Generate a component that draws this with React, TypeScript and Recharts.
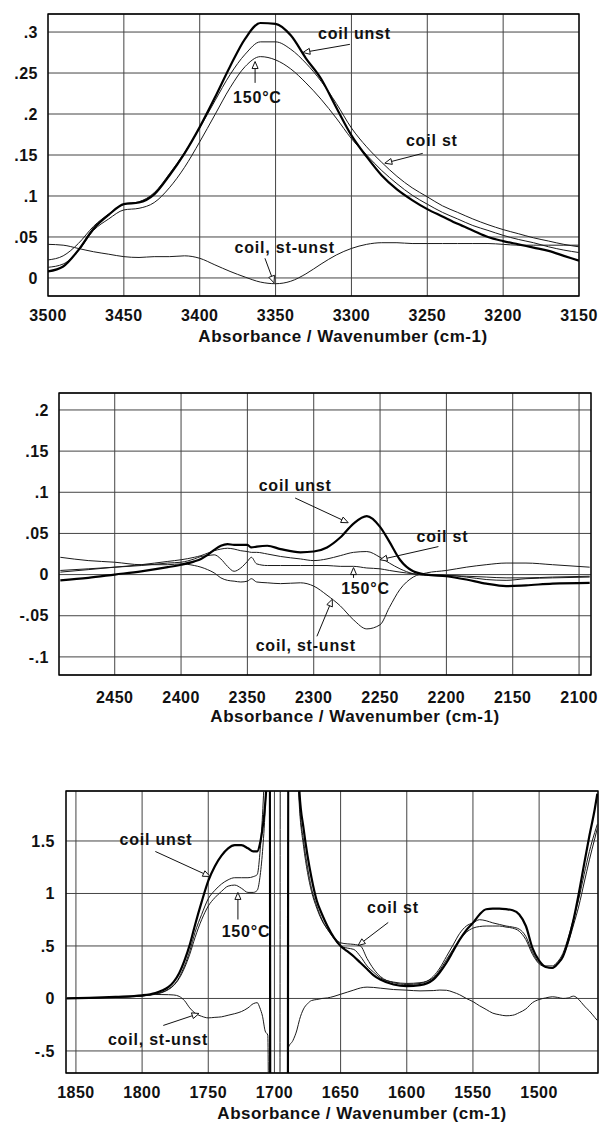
import { LineChart, Line, XAxis, YAxis, CartesianGrid, ReferenceLine, ReferenceDot, ReferenceArea } from "recharts";

const FONT = "'Liberation Sans', Arial, Helvetica, sans-serif";
const INK = "#111";

// ---- panel 1 : O-H region ----
const p1Wave = [3500, 3490, 3480, 3470, 3460, 3450, 3440, 3430, 3420, 3410, 3400, 3390, 3380, 3370, 3360, 3350, 3340, 3330, 3320, 3310, 3300, 3290, 3280, 3270, 3260, 3250, 3240, 3230, 3220, 3210, 3200, 3190, 3180, 3170, 3160, 3150];
const p1Unst = [0.008, 0.014, 0.034, 0.060, 0.077, 0.090, 0.092, 0.102, 0.125, 0.152, 0.184, 0.220, 0.258, 0.292, 0.311, 0.310, 0.296, 0.268, 0.243, 0.208, 0.174, 0.148, 0.125, 0.108, 0.095, 0.084, 0.075, 0.066, 0.058, 0.050, 0.045, 0.041, 0.037, 0.033, 0.027, 0.021];
const p1St = [0.022, 0.027, 0.042, 0.063, 0.078, 0.090, 0.093, 0.104, 0.127, 0.153, 0.183, 0.216, 0.248, 0.273, 0.288, 0.288, 0.279, 0.262, 0.240, 0.213, 0.183, 0.160, 0.141, 0.124, 0.110, 0.099, 0.088, 0.080, 0.072, 0.065, 0.059, 0.054, 0.049, 0.045, 0.041, 0.038];
const p1Hot = [0.013, 0.017, 0.033, 0.058, 0.072, 0.083, 0.085, 0.092, 0.110, 0.135, 0.166, 0.199, 0.232, 0.258, 0.270, 0.266, 0.255, 0.238, 0.218, 0.195, 0.170, 0.150, 0.131, 0.115, 0.101, 0.090, 0.080, 0.072, 0.064, 0.058, 0.052, 0.047, 0.043, 0.038, 0.034, 0.031];
const p1Diff = [0.041, 0.040, 0.036, 0.032, 0.029, 0.026, 0.025, 0.026, 0.026, 0.027, 0.024, 0.016, 0.008, 0.001, -0.005, -0.007, -0.004, 0.005, 0.017, 0.028, 0.036, 0.041, 0.043, 0.043, 0.042, 0.042, 0.042, 0.042, 0.042, 0.042, 0.041, 0.040, 0.040, 0.040, 0.040, 0.040];
const p1XTicks = [3500, 3450, 3400, 3350, 3300, 3250, 3200, 3150];
const p1YTicks = [0, 0.05, 0.1, 0.15, 0.2, 0.25, 0.3];

// ---- panel 2 : CO2 / NCO region ----
const p2Wave = [2491, 2470, 2450, 2430, 2410, 2400, 2390, 2385, 2380, 2375, 2370, 2365, 2360, 2355, 2350, 2347, 2343, 2335, 2325, 2310, 2300, 2290, 2280, 2270, 2260, 2250, 2243, 2235, 2225, 2215, 2200, 2185, 2170, 2155, 2140, 2120, 2092];
const p2Unst = [-0.007, -0.004, 0.0, 0.004, 0.009, 0.012, 0.016, 0.019, 0.024, 0.030, 0.035, 0.037, 0.036, 0.036, 0.036, 0.033, 0.034, 0.035, 0.031, 0.027, 0.028, 0.033, 0.045, 0.062, 0.071, 0.058, 0.040, 0.018, 0.004, 0.0, -0.002, -0.006, -0.011, -0.014, -0.013, -0.011, -0.010];
const p2St = [0.003, 0.006, 0.009, 0.012, 0.016, 0.018, 0.021, 0.023, 0.026, 0.029, 0.031, 0.032, 0.031, 0.029, 0.028, 0.027, 0.027, 0.025, 0.022, 0.019, 0.017, 0.019, 0.023, 0.027, 0.028, 0.021, 0.014, 0.007, 0.001, -0.001, -0.001, -0.003, -0.006, -0.007, -0.005, -0.004, -0.003];
const p2Hot = [0.005, 0.007, 0.009, 0.011, 0.014, 0.015, 0.019, 0.022, 0.023, 0.024, 0.019, 0.010, 0.004, 0.008, 0.016, 0.021, 0.013, 0.011, 0.011, 0.011, 0.011, 0.011, 0.010, 0.010, 0.008, 0.007, 0.005, 0.003, 0.001, 0.0, -0.001, -0.002, -0.003, -0.004, -0.004, -0.003, -0.002];
const p2Diff = [0.021, 0.017, 0.015, 0.012, 0.012, 0.013, 0.011, 0.009, 0.006, 0.002, -0.004, -0.007, -0.008, -0.009, -0.008, -0.005, -0.009, -0.010, -0.011, -0.010, -0.014, -0.025, -0.038, -0.055, -0.066, -0.061, -0.040, -0.018, -0.003, 0.002, 0.005, 0.009, 0.012, 0.014, 0.014, 0.012, 0.009];
const p2XTicks = [2450, 2400, 2350, 2300, 2250, 2200, 2150, 2100];
const p2YTicks = [-0.1, -0.05, 0, 0.05, 0.1, 0.15, 0.2];

// ---- panel 3 : carbonyl region (saturated band near 1700) ----
const p3Wave = [1857, 1840, 1820, 1800, 1790, 1785, 1780, 1776, 1772, 1768, 1764, 1760, 1755, 1750, 1745, 1740, 1735, 1730, 1725, 1720, 1716, 1713, 1711, 1709, 1707, 1705, 1703.5, 1703, 1696, 1695.5, 1690, 1689.5, 1686, 1683, 1681, 1678, 1675, 1672, 1668, 1664, 1660, 1655, 1650, 1645, 1640, 1635, 1630, 1625, 1620, 1610, 1600, 1590, 1580, 1575, 1570, 1565, 1560, 1555, 1550, 1545, 1540, 1535, 1530, 1525, 1520, 1515, 1510, 1505, 1500, 1495, 1490, 1486, 1482, 1478, 1474, 1470, 1466, 1462, 1458, 1456];
const p3Unst = [0.0, 0.005, 0.015, 0.030, 0.052, 0.075, 0.11, 0.16, 0.24, 0.36, 0.51, 0.70, 0.92, 1.12, 1.26, 1.36, 1.43, 1.46, 1.46, 1.43, 1.40, 1.40, 1.47, 1.62, 1.85, 2.3, 3.0, -3.0, -3.0, -3.0, -3.0, 3.0, 3.0, 2.5, 1.95, 1.62, 1.36, 1.15, 0.93, 0.80, 0.69, 0.58, 0.50, 0.45, 0.40, 0.34, 0.28, 0.22, 0.18, 0.133, 0.117, 0.127, 0.18, 0.25, 0.34, 0.45, 0.56, 0.65, 0.72, 0.80, 0.85, 0.855, 0.855, 0.85, 0.84, 0.80, 0.69, 0.48, 0.36, 0.30, 0.29, 0.33, 0.40, 0.55, 0.75, 1.0, 1.28, 1.55, 1.80, 1.95];
const p3St = [0.0, 0.004, 0.012, 0.025, 0.042, 0.06, 0.09, 0.13, 0.20, 0.31, 0.45, 0.63, 0.80, 0.95, 1.03, 1.09, 1.13, 1.15, 1.15, 1.15, 1.16, 1.18, 1.38, 1.75, 2.3, 3.0, 3.0, -3.0, -3.0, 3.0, 3.0, 3.0, 3.0, 2.3, 1.8, 1.45, 1.2, 1.02, 0.86, 0.74, 0.66, 0.58, 0.53, 0.52, 0.515, 0.50, 0.38, 0.28, 0.21, 0.15, 0.133, 0.143, 0.21, 0.29, 0.40, 0.51, 0.62, 0.69, 0.72, 0.75, 0.74, 0.72, 0.705, 0.69, 0.68, 0.66, 0.59, 0.44, 0.34, 0.31, 0.31, 0.35, 0.43, 0.58, 0.76, 0.95, 1.18, 1.40, 1.58, 1.66];
const p3Hot = [0.0, 0.004, 0.012, 0.025, 0.040, 0.056, 0.085, 0.125, 0.19, 0.29, 0.42, 0.58, 0.75, 0.88, 0.96, 1.02, 1.07, 1.08, 1.05, 1.01, 1.01, 1.03, 1.15, 1.40, 1.80, 2.5, 3.0, -3.0, -3.0, -3.0, -3.0, 3.0, 3.0, 2.4, 1.85, 1.5, 1.25, 1.05, 0.88, 0.75, 0.66, 0.57, 0.50, 0.48, 0.467, 0.40, 0.31, 0.25, 0.197, 0.156, 0.143, 0.15, 0.197, 0.27, 0.37, 0.47, 0.56, 0.63, 0.67, 0.685, 0.69, 0.69, 0.69, 0.68, 0.67, 0.64, 0.56, 0.42, 0.33, 0.30, 0.29, 0.33, 0.40, 0.53, 0.70, 0.88, 1.10, 1.32, 1.52, 1.62];
const p3Diff = [0.0, 0.005, 0.012, 0.022, 0.038, 0.037, 0.036, 0.033, 0.02, -0.02, -0.09, -0.14, -0.17, -0.185, -0.18, -0.175, -0.16, -0.145, -0.125, -0.09, -0.05, -0.04, -0.09, -0.17, -0.31, -0.35, -3.0, -3.0, -3.0, -3.0, -3.0, -0.47, -0.40, -0.30, -0.20, -0.10, -0.05, -0.02, -0.01, 0.0, 0.005, 0.02, 0.04, 0.06, 0.08, 0.10, 0.108, 0.105, 0.098, 0.085, 0.079, 0.072, 0.075, 0.08, 0.078, 0.06, 0.035, 0.0, -0.03, -0.07, -0.105, -0.14, -0.155, -0.165, -0.16, -0.135, -0.10, -0.04, -0.01, 0.005, 0.016, 0.01, 0.0, 0.005, 0.022, -0.01, -0.07, -0.12, -0.18, -0.21];
const p3XTicks = [1850, 1800, 1750, 1700, 1650, 1600, 1550, 1500];
const p3YTicks = [-0.5, 0, 0.5, 1, 1.5];

type Note = { text: string; tx: number; ty: number; x1: number; y1: number; x2: number; y2: number };

const p1Notes: Note[] = [
  { text: "coil unst", tx: 3298, ty: 0.292, x1: 3301, y1: 0.285, x2: 3332, y2: 0.275 },
  { text: "150°C", tx: 3362, ty: 0.214, x1: 3363.5, y1: 0.238, x2: 3363.5, y2: 0.264 },
  { text: "coil st", tx: 3247, ty: 0.161, x1: 3253, y1: 0.152, x2: 3278, y2: 0.140 },
  { text: "coil, st-unst", tx: 3344, ty: 0.030, x1: 3357, y1: 0.024, x2: 3351, y2: -0.006 },
];
const p2Notes: Note[] = [
  { text: "coil unst", tx: 2314, ty: 0.102, x1: 2314, y1: 0.093, x2: 2274, y2: 0.063 },
  { text: "coil st", tx: 2203, ty: 0.040, x1: 2206, y1: 0.034, x2: 2250, y2: 0.018 },
  { text: "150°C", tx: 2261, ty: -0.024, x1: 2270, y1: -0.004, x2: 2270, y2: 0.0085 },
  { text: "coil, st-unst", tx: 2306, ty: -0.093, x1: 2297.6, y1: -0.075, x2: 2286, y2: -0.03 },
];
const p3Notes: Note[] = [
  { text: "coil unst", tx: 1789.5, ty: 1.457, x1: 1790, y1: 1.40, x2: 1748.7, y2: 1.162 },
  { text: "150°C", tx: 1721.5, ty: 0.581, x1: 1727.6, y1: 0.752, x2: 1727.6, y2: 1.01 },
  { text: "coil, st-unst", tx: 1788, ty: -0.448, x1: 1784, y1: -0.257, x2: 1757, y2: -0.143 },
  { text: "coil st", tx: 1610.4, ty: 0.81, x1: 1614, y1: 0.724, x2: 1636.8, y2: 0.505 },
];

const tickStyle = { fontSize: 16, fontWeight: "bold", fill: INK, fontFamily: FONT, letterSpacing: 0.5 };
const fmt = (v: number) => String(v).replace("0.", ".");

const Arrow = (p: any) => {
  const { x1, y1, x2, y2 } = p;
  const dx = x2 - x1;
  const dy = y2 - y1;
  const len = Math.hypot(dx, dy) || 1;
  const ux = dx / len;
  const uy = dy / len;
  const bx = x2 - ux * 7;
  const by = y2 - uy * 7;
  const pts = `${x2},${y2} ${bx - uy * 3},${by + ux * 3} ${bx + uy * 3},${by - ux * 3}`;
  return (
    <g>
      <line x1={x1} y1={y1} x2={bx} y2={by} stroke={INK} strokeWidth={1} />
      <polygon points={pts} fill="#fff" stroke={INK} strokeWidth={1} />
    </g>
  );
};

type PanelProps = {
  top: number;
  height: number;
  margin: { top: number; right: number; bottom: number; left: number };
  yWidth: number;
  wave: number[];
  unst: number[];
  st: number[];
  hot: number[];
  diff: number[];
  xDomain: [number, number];
  yDomain: [number, number];
  xTicks: number[];
  yTicks: number[];
  notes: Note[];
  xGap: number;
  yGap: number;
  titleX: number;
  titleBase: number;
};

const Panel = (p: PanelProps) => {
  const rows = p.wave.map((w, i) => ({ w, unst: p.unst[i], st: p.st[i], hot: p.hot[i], diff: p.diff[i] }));
  return (
    <div style={{ position: "absolute", left: 0, top: p.top, width: 600, height: p.height }}>
      <LineChart width={600} height={p.height} data={rows} margin={p.margin}>
        <CartesianGrid stroke="#444" strokeWidth={1} />
        <XAxis dataKey="w" type="number" domain={p.xDomain} reversed allowDataOverflow ticks={p.xTicks} interval={0}
          tickLine={false} axisLine={false} tickSize={0} tickMargin={p.xGap} height={30} tick={tickStyle} />
        <YAxis type="number" domain={p.yDomain} allowDataOverflow ticks={p.yTicks} interval={0} tickFormatter={fmt}
          width={p.yWidth} tickLine={false} axisLine={false} tickSize={0} tickMargin={p.yGap} tick={tickStyle} />
        <ReferenceArea x1={p.xDomain[0]} x2={p.xDomain[1]} y1={p.yDomain[0]} y2={p.yDomain[1]} fill="none" stroke="#000" strokeWidth={1.3} ifOverflow="visible" />
        <Line type="monotone" dataKey="diff" stroke="#1a1a1a" strokeWidth={1} dot={false} isAnimationActive={false} />
        <Line type="monotone" dataKey="hot" stroke="#1a1a1a" strokeWidth={1} dot={false} isAnimationActive={false} />
        <Line type="monotone" dataKey="st" stroke="#1a1a1a" strokeWidth={1} dot={false} isAnimationActive={false} />
        <Line type="monotone" dataKey="unst" stroke="#000" strokeWidth={2.2} dot={false} isAnimationActive={false} />
        {p.notes.map((n) => (
          <ReferenceLine key={"l" + n.text} segment={[{ x: n.x1, y: n.y1 }, { x: n.x2, y: n.y2 }]} shape={Arrow} />
        ))}
        {p.notes.map((n) => (
          <ReferenceDot key={"t" + n.text} x={n.tx} y={n.ty} r={1}
            shape={(d: any) => (
              <text x={d.cx} y={d.cy} textAnchor="middle" fontFamily={FONT} fontWeight="bold" fontSize={16} letterSpacing={0.8} fill={INK}>
                {n.text}
              </text>
            )} />
        ))}
      </LineChart>
      <div style={{
        position: "absolute", left: p.titleX - 200, top: p.titleBase - p.top - 16, width: 400, textAlign: "center",
        fontFamily: FONT, fontWeight: "bold", fontSize: 17, lineHeight: "20px", letterSpacing: "0.5px", color: INK,
        whiteSpace: "nowrap",
      }}>
        Absorbance / Wavenumber (cm-1)
      </div>
    </div>
  );
};

export default function App() {
  return (
    <div style={{ position: "absolute", left: 0, top: 0, width: 600, height: 1124, background: "#fff" }}>
      <Panel top={0} height={350} margin={{ top: 14, right: 21, bottom: 24, left: 0 }} yWidth={48}
        wave={p1Wave} unst={p1Unst} st={p1St} hot={p1Hot} diff={p1Diff}
        xDomain={[3150, 3500]} yDomain={[-0.022, 0.322]} xTicks={p1XTicks} yTicks={p1YTicks}
        notes={p1Notes} xGap={14} yGap={10} titleX={343} titleBase={343} />
      <Panel top={370} height={360} margin={{ top: 23, right: 9, bottom: 25, left: 0 }} yWidth={59}
        wave={p2Wave} unst={p2Unst} st={p2St} hot={p2Hot} diff={p2Diff}
        xDomain={[2091, 2492]} yDomain={[-0.122, 0.2206]} xTicks={p2XTicks} yTicks={p2YTicks}
        notes={p2Notes} xGap={17} yGap={10} titleX={355} titleBase={723} />
      <Panel top={760} height={364} margin={{ top: 31, right: 2, bottom: 21, left: 0 }} yWidth={66}
        wave={p3Wave} unst={p3Unst} st={p3St} hot={p3Hot} diff={p3Diff}
        xDomain={[1455.5, 1857.5]} yDomain={[-0.71, 1.976]} xTicks={p3XTicks} yTicks={p3YTicks}
        notes={p3Notes} xGap={14} yGap={11} titleX={362} titleBase={1120} />
    </div>
  );
}
